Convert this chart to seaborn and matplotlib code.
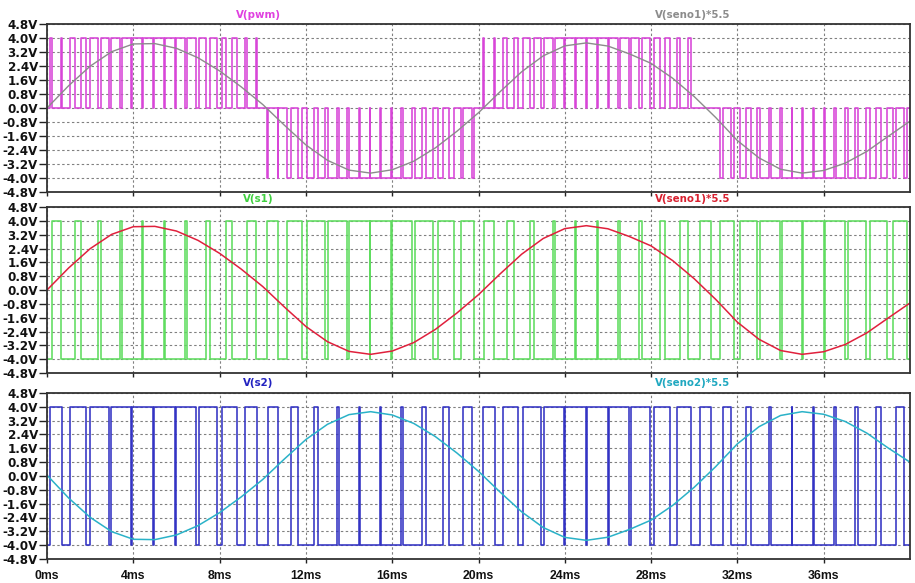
import matplotlib
matplotlib.use("Agg")
import matplotlib.pyplot as plt
import pandas as pd
import seaborn as sns

# ---------------- data ----------------
time_ms = list(range(41))
seno1_x55 = [0.00, 1.27, 2.39, 3.22, 3.66, 3.68, 3.41, 2.87, 2.12, 1.21,
             0.20, -0.98, -2.11, -2.99, -3.55, -3.72, -3.53, -3.04, -2.28, -1.33,
             -0.27, 0.93, 2.07, 2.98, 3.55, 3.72, 3.54, 3.09, 2.55, 1.70,
             0.65, -0.55, -1.86, -2.85, -3.50, -3.72, -3.57, -3.15, -2.48, -1.61,
             -0.75]
seno2_x55 = [0.05, -1.27, -2.39, -3.22, -3.66, -3.68, -3.41, -2.87, -2.12, -1.21,
             -0.20, 0.98, 2.11, 2.99, 3.55, 3.72, 3.53, 3.04, 2.28, 1.33,
             0.27, -0.93, -2.07, -2.98, -3.55, -3.72, -3.54, -3.09, -2.55, -1.70,
             -0.65, 0.55, 1.86, 2.85, 3.50, 3.72, 3.57, 3.15, 2.48, 1.61,
             0.80]

# centre of each high pulse (carrier peaks) and pulse widths, in ms
pulse_center_ms = [0.43, 1.43, 2.44, 3.44, 4.44, 5.44, 6.45, 7.45, 8.45, 9.46,
                   10.46, 11.46, 12.46, 13.47, 14.47, 15.47, 16.47, 17.48, 18.48, 19.48,
                   20.49, 21.49, 22.49, 23.49, 24.50, 25.50, 26.50, 27.51, 28.51, 29.51,
                   30.51, 31.52, 32.52, 33.52, 34.53, 35.53, 36.53, 37.53, 38.54, 39.54]
s1_high_width_ms = [0.43, 0.28, 0.15, 0.07, 0.04, 0.05, 0.10, 0.18, 0.29, 0.41,
                    0.54, 0.69, 0.82, 0.91, 0.96, 0.96, 0.92, 0.84, 0.73, 0.60,
                    0.46, 0.31, 0.18, 0.09, 0.04, 0.04, 0.08, 0.15, 0.24, 0.36,
                    0.50, 0.66, 0.80, 0.90, 0.96, 0.96, 0.92, 0.85, 0.75, 0.64]
s2_high_width_ms = [0.57, 0.72, 0.85, 0.93, 0.96, 0.95, 0.90, 0.82, 0.71, 0.59,
                    0.46, 0.31, 0.18, 0.09, 0.04, 0.04, 0.08, 0.16, 0.27, 0.40,
                    0.54, 0.69, 0.82, 0.91, 0.96, 0.96, 0.92, 0.85, 0.76, 0.64,
                    0.50, 0.34, 0.20, 0.10, 0.04, 0.04, 0.08, 0.15, 0.25, 0.36]
level_high = 4.0
level_low = -4.0

y_ticks = [-4.8, -4.0, -3.2, -2.4, -1.6, -0.8, 0.0, 0.8, 1.6, 2.4, 3.2, 4.0, 4.8]
y_tick_labels = ["-4.8V", "-4.0V", "-3.2V", "-2.4V", "-1.6V", "-0.8V", "0.0V",
                 "0.8V", "1.6V", "2.4V", "3.2V", "4.0V", "4.8V"]
x_ticks = [0, 4, 8, 12, 16, 20, 24, 28, 32, 36]
x_tick_labels = ["0ms", "4ms", "8ms", "12ms", "16ms", "20ms", "24ms", "28ms", "32ms", "36ms"]
t_start, t_end = 0.0, 40.0


# ---------------- helpers ----------------
def edges(centers, widths):
    rises = [c - w / 2 for c, w in zip(centers, widths)]
    falls = [c + w / 2 for c, w in zip(centers, widths)]
    return rises, falls


def level(t, rises, falls):
    for r, f in zip(rises, falls):
        if r <= t < f:
            return level_high
    return level_low


def step_frame(breaks, fn):
    pts = sorted(set([t_start, t_end] + [b for b in breaks if t_start < b < t_end]))
    xs, ys = [], []
    for a, b in zip(pts[:-1], pts[1:]):
        v = fn((a + b) / 2)
        xs += [a, b]
        ys += [v, v]
    return pd.DataFrame({"t": xs, "v": ys})


s1_r, s1_f = edges(pulse_center_ms, s1_high_width_ms)
s2_r, s2_f = edges(pulse_center_ms, s2_high_width_ms)

df_s1 = step_frame(s1_r + s1_f, lambda t: level(t, s1_r, s1_f))
df_s2 = step_frame(s2_r + s2_f, lambda t: level(t, s2_r, s2_f))
df_pwm = step_frame(s1_r + s1_f + s2_r + s2_f,
                    lambda t: (level(t, s2_r, s2_f) - level(t, s1_r, s1_f)) / 2)
df_sin1 = pd.DataFrame({"t": time_ms, "v": seno1_x55})
df_sin2 = pd.DataFrame({"t": time_ms, "v": seno2_x55})

# ---------------- style ----------------
sns.set_style("white")
plt.rcParams["font.family"] = ["DejaVu Sans"]
plt.rcParams["font.weight"] = "bold"

W, H = 915, 583
fig = plt.figure(figsize=(W / 100, H / 100), dpi=100)
fig.patch.set_facecolor("white")

left_px, right_px = 47, 910
panels_px = [(24, 192), (207, 373), (393, 559)]

traces = [
    (df_pwm, "#d845d8", 1.15, df_sin1, "#8c8c8c", 1.0,
     ("V(pwm)", "#e040e0"), ("V(seno1)*5.5", "#8c8c8c"), 15),
    (df_s1, "#5fdc5f", 1.15, df_sin1, "#e0203c", 1.1,
     ("V(s1)", "#3fcf3f"), ("V(seno1)*5.5", "#d8202f"), 199),
    (df_s2, "#3333c4", 1.15, df_sin2, "#2ab2c8", 1.1,
     ("V(s2)", "#2222c0"), ("V(seno2)*5.5", "#20a8c0"), 383),
]

for i, ((top, bot), tr) in enumerate(zip(panels_px, traces)):
    dfp, cp, lwp, dfs, cs, lws, lab1, lab2, ylab = tr
    ax = fig.add_axes([left_px / W, 1 - bot / H, (right_px - left_px) / W, (bot - top) / H])
    ax.set_facecolor("white")
    sns.lineplot(data=dfp, x="t", y="v", sort=False, estimator=None,
                 color=cp, lw=lwp, ax=ax)
    sns.lineplot(data=dfs, x="t", y="v", sort=False, estimator=None,
                 color=cs, lw=lws, ax=ax)
    ax.set_xlim(t_start, t_end)
    ax.set_ylim(-4.8, 4.8)
    ax.set_xlabel("")
    ax.set_ylabel("")
    ax.set_yticks(y_ticks)
    ax.set_yticklabels(y_tick_labels, fontsize=8.6, fontweight="bold")
    ax.set_xticks(x_ticks)
    if i == 2:
        ax.set_xticklabels(x_tick_labels, fontsize=8.8, fontweight="bold",
                           family="Liberation Sans")
    else:
        ax.set_xticklabels([])
    ax.tick_params(axis="y", direction="out", length=5.5, width=1.0, pad=1,
                   color="#222222", labelcolor="#111111", left=True)
    ax.tick_params(axis="x", direction="out", length=3, width=1.0, pad=5,
                   color="#222222", labelcolor="#111111", bottom=True)
    ax.grid(True, color="#808080", linestyle=(0, (2.2, 2.2)), lw=0.8)
    ax.set_axisbelow(True)
    for sp in ax.spines.values():
        sp.set_visible(True)
        sp.set_color("#333333")
        sp.set_linewidth(1.3)
    fig.text(258 / W, 1 - ylab / H, lab1[0], color=lab1[1], fontsize=7.4,
             fontweight="bold", ha="center", va="center")
    fig.text(693 / W, 1 - ylab / H, lab2[0], color=lab2[1], fontsize=7.4,
             fontweight="bold", ha="center", va="center")

fig.savefig("out.png", dpi=100, facecolor="white")
